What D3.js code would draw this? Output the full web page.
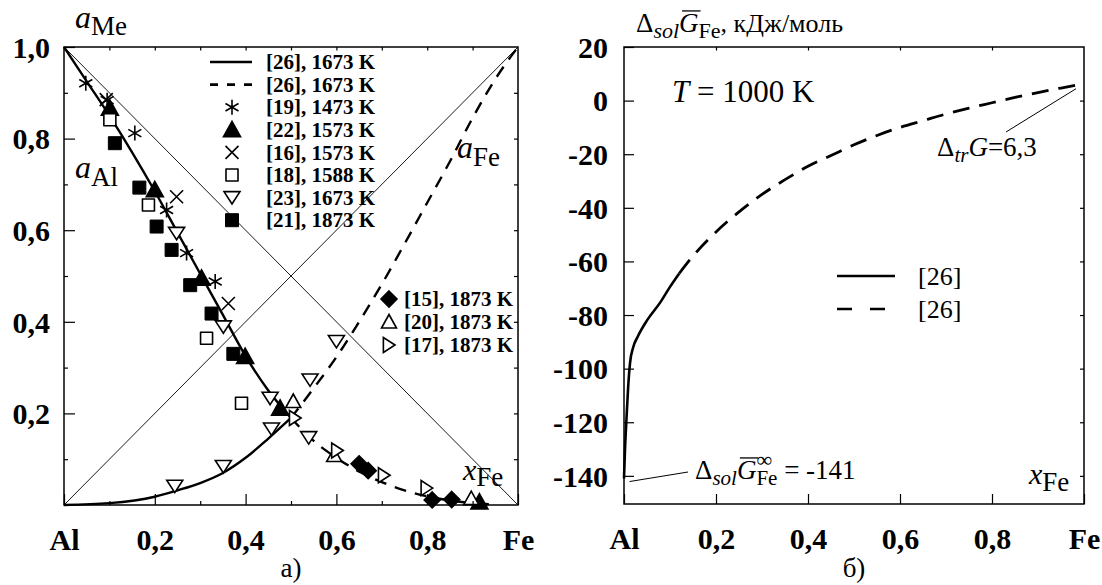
<!DOCTYPE html>
<html>
<head>
<meta charset="utf-8">
<script src="https://cdn.jsdelivr.net/npm/d3@7"></script>
<style>
  body { margin: 0; background: #fff; }
  svg { font-family: "Liberation Serif", "Times New Roman", serif; }
  text { white-space: pre; }
</style>
</head>
<body>
<svg id="chart" width="1102" height="585"></svg>
<script>
// ---- data: panel a) activities vs x_Fe ----
var xTickVals = [0, 0.2, 0.4, 0.6, 0.8, 1];
var xTickLabels = ["Al", "0,2", "0,4", "0,6", "0,8", "Fe"];
var xMinorVals = [0.1, 0.3, 0.5, 0.7, 0.9];
var yTickValsL = [0.2, 0.4, 0.6, 0.8, 1.0];
var yTickLabelsL = ["0,2", "0,4", "0,6", "0,8", "1,0"];
var topTickValsL = [0.1, 0.2, 0.3, 0.4, 0.5, 0.6, 0.7, 0.8, 0.9];

var aAlSolid = [[0,1],[0.05,0.925],[0.1,0.85],[0.15,0.77],[0.2,0.685],[0.25,0.595],[0.3,0.505],[0.35,0.415],[0.4,0.325],[0.45,0.25],[0.5,0.19]];
var aAlDashed = [[0.5,0.19],[0.55,0.14],[0.6,0.103],[0.65,0.073],[0.7,0.05],[0.75,0.032],[0.8,0.019],[0.85,0.01],[0.9,0.004],[0.95,0.001]];
var aFeSolid = [[0,0],[0.1,0.004],[0.2,0.018],[0.25,0.032],[0.3,0.048],[0.35,0.07],[0.4,0.103],[0.45,0.145],[0.5,0.19]];
var aFeDashed = [[0.5,0.19],[0.55,0.255],[0.6,0.323],[0.65,0.4],[0.7,0.482],[0.75,0.57],[0.8,0.66],[0.85,0.75],[0.9,0.845],[0.95,0.93],[1,1]];

var s19 = [[0.048,0.921],[0.095,0.884],[0.156,0.812],[0.226,0.644],[0.27,0.55],[0.333,0.488]];
var s22 = [[0.101,0.866],[0.2,0.688],[0.303,0.495],[0.399,0.324],[0.476,0.211],[0.915,0.006]];
var s16 = [[0.093,0.885],[0.248,0.673],[0.362,0.44]];
var s18 = [[0.101,0.841],[0.186,0.655],[0.314,0.364],[0.391,0.222]];
var s23 = [[0.248,0.593],[0.351,0.389],[0.454,0.233],[0.539,0.147],[0.244,0.041],[0.351,0.084],[0.457,0.166],[0.542,0.273],[0.6,0.357]];
var s21 = [[0.112,0.79],[0.166,0.693],[0.204,0.608],[0.237,0.557],[0.278,0.48],[0.325,0.418],[0.373,0.33]];
var s15 = [[0.65,0.09],[0.67,0.075],[0.811,0.011],[0.854,0.012]];
var s20 = [[0.505,0.226],[0.595,0.108],[0.897,0.014]];
var s17 = [[0.509,0.19],[0.602,0.119],[0.705,0.065],[0.799,0.037]];

var legendA1 = ["[26], 1673 K","[26], 1673 K","[19], 1473 K","[22], 1573 K","[16], 1573 K","[18], 1588 K","[23], 1673 K","[21], 1873 K"];
var legendA2 = ["[15], 1873 K","[20], 1873 K","[17], 1873 K"];

// ---- data: panel б) partial Gibbs energy of Fe, T = 1000 K ----
var yTickValsR = [20, 0, -20, -40, -60, -80, -100, -120, -140];
var gSolid = [[0,-141],[0.002,-131],[0.005,-120],[0.009,-107],[0.013,-98],[0.02,-92],[0.03,-88],[0.05,-82],[0.08,-75],[0.1,-69.5],[0.12,-64.5]];
var gDashed = [[0.12,-64.5],[0.15,-58],[0.2,-49],[0.25,-41.5],[0.3,-35],[0.35,-29.5],[0.4,-24.5],[0.45,-20.5],[0.5,-16.5],[0.55,-13],[0.6,-10],[0.65,-7.5],[0.7,-5],[0.75,-2.8],[0.8,-0.8],[0.85,1.2],[0.9,3],[0.95,4.7],[1,6.3]];
var legendB = ["[26]", "[26]"];
var gInf = -141, gTr = 6.3;

var svg = d3.select("#chart");

// marker shapes, centred on 0,0
function markerPath(type, s) {
  var h = s / 2;
  switch (type) {
    case "sq": return "M" + (-h) + "," + (-h) + "h" + s + "v" + s + "h" + (-s) + "Z";
    case "triU": return "M0," + (-h) + "L" + h + "," + (h * 0.8) + "L" + (-h) + "," + (h * 0.8) + "Z";
    case "triD": return "M0," + (h * 0.8) + "L" + h + "," + (-h * 0.75) + "L" + (-h) + "," + (-h * 0.75) + "Z";
    case "triR": return "M" + (h * 0.8) + ",0L" + (-h * 0.75) + "," + (-h) + "L" + (-h * 0.75) + "," + h + "Z";
    case "dia": return "M0," + (-h) + "L" + h + ",0L0," + h + "L" + (-h) + ",0Z";
    case "x": return "M" + (-h) + "," + (-h) + "L" + h + "," + h + "M" + h + "," + (-h) + "L" + (-h) + "," + h;
    case "ast":
      var c = h * 0.87, d = h * 0.5;
      return "M0," + (-h) + "V" + h + "M" + (-c) + "," + (-d) + "L" + c + "," + d + "M" + c + "," + (-d) + "L" + (-c) + "," + d;
  }
}

var styles = {
  s19: {type: "ast", size: 15, fill: "none"},
  s22: {type: "triU", size: 17, fill: "#000"},
  s16: {type: "x", size: 13, fill: "none"},
  s18: {type: "sq", size: 12, fill: "#fff"},
  s23: {type: "triD", size: 16, fill: "#fff"},
  s21: {type: "sq", size: 13, fill: "#000"},
  s15: {type: "dia", size: 16, fill: "#000"},
  s20: {type: "triU", size: 15, fill: "#fff"},
  s17: {type: "triR", size: 15, fill: "#fff"}
};

function drawMarker(g, key, px, py) {
  var st = styles[key];
  g.append("path")
    .attr("d", markerPath(st.type, st.size))
    .attr("transform", "translate(" + px + "," + py + ")")
    .attr("fill", st.fill)
    .attr("stroke", "#000")
    .attr("stroke-width", st.type == "sq" && st.fill == "#000" ? 1 : 1.6)
    .attr("stroke-linejoin", st.type == "sq" ? "round" : "miter");
}

// text made of pieces (italic, sub/superscripts, overline)
function rich(g, x, y, parts) {
  var cx = x;
  parts.forEach(function(p) {
    var t = g.append("text")
      .attr("x", cx + (p.dx || 0))
      .attr("y", y + (p.dy || 0))
      .attr("font-size", p.size)
      .attr("font-style", p.italic ? "italic" : null)
      .attr("font-weight", p.bold ? "bold" : null)
      .text(p.t);
    var w = t.node().getComputedTextLength();
    if (p.over) {
      g.append("line")
        .attr("x1", cx + 3).attr("x2", cx + w + 2)
        .attr("y1", y - p.size * 0.78).attr("y2", y - p.size * 0.78)
        .attr("stroke", "#000").attr("stroke-width", 1.3);
    }
    if (!p.stay) cx += w + (p.dx || 0);
  });
}

function frameAxes(g, x, y, o) {
  // major ticks + labels
  var bottom = g.append("g").attr("transform", "translate(0," + y.range()[0] + ")")
    .call(d3.axisBottom(x).tickValues(o.xMajor).tickSize(-o.xMajorLen).tickPadding(23)
      .tickFormat(function(d, i) { return o.xLabels[i]; }));
  var left = g.append("g").attr("transform", "translate(" + x.range()[0] + ",0)")
    .call(d3.axisLeft(y).tickValues(o.yMajor).tickSize(-o.yMajorLen).tickPadding(o.yPad)
      .tickFormat(function(d, i) { return o.yLabels[i]; }));
  [bottom, left].forEach(function(a) {
    a.select(".domain").remove();
    a.attr("font-family", null);
    a.selectAll("text").attr("font-size", 30).attr("font-weight", "bold").attr("fill", "#000");
  });
  bottom.selectAll("text").attr("dy", "0.74em");
  left.selectAll("text").attr("dy", "0.34em");
  // minor / small ticks
  var small = [];
  if (o.xMinor) small.push(g.append("g").attr("transform", "translate(0," + y.range()[0] + ")")
    .call(d3.axisBottom(x).tickValues(o.xMinor).tickSize(-4).tickFormat("")));
  if (o.yMinor) small.push(g.append("g").attr("transform", "translate(" + x.range()[0] + ",0)")
    .call(d3.axisLeft(y).tickValues(o.yMinor).tickSize(-4).tickFormat("")));
  small.push(g.append("g").attr("transform", "translate(0," + y.range()[1] + ")")
    .call(d3.axisTop(x).tickValues(o.xTop).tickSize(-3.5).tickFormat("")));
  small.push(g.append("g").attr("transform", "translate(" + x.range()[1] + ",0)")
    .call(d3.axisRight(y).tickValues(o.yRight).tickSize(-4).tickFormat("")));
  small.forEach(function(a) { a.select(".domain").remove(); });
  g.selectAll(".tick line").attr("stroke", "#000").attr("stroke-width", 1.2);
  // frame
  g.append("rect")
    .attr("x", x.range()[0]).attr("y", y.range()[1])
    .attr("width", x.range()[1] - x.range()[0]).attr("height", y.range()[0] - y.range()[1])
    .attr("fill", "none").attr("stroke", "#000").attr("stroke-width", 1.5);
}

// ================= panel a) =================
var xL = d3.scaleLinear().domain([0, 1]).range([64, 518]);
var yL = d3.scaleLinear().domain([0, 1]).range([505, 47]);
var gA = svg.append("g");

var lineL = d3.line().x(function(d) { return xL(d[0]); }).y(function(d) { return yL(d[1]); });
var curveL = d3.line().x(function(d) { return xL(d[0]); }).y(function(d) { return yL(d[1]); })
  .curve(d3.curveMonotoneX);

// Raoult diagonals
gA.append("path").attr("d", lineL([[0, 1], [1, 0]])).attr("stroke", "#000").attr("stroke-width", 0.9).attr("fill", "none");
gA.append("path").attr("d", lineL([[0, 0], [1, 1]])).attr("stroke", "#000").attr("stroke-width", 0.9).attr("fill", "none");

[aAlSolid, aFeSolid].forEach(function(d) {
  gA.append("path").attr("d", curveL(d)).attr("stroke", "#000").attr("stroke-width", 2.4).attr("fill", "none");
});
[aAlDashed, aFeDashed].forEach(function(d) {
  gA.append("path").attr("d", curveL(d)).attr("stroke", "#000").attr("stroke-width", 2.4)
    .attr("stroke-dasharray", "12,9").attr("fill", "none");
});

var seriesA = {s19: s19, s22: s22, s16: s16, s18: s18, s23: s23, s21: s21, s15: s15, s20: s20, s17: s17};
Object.keys(seriesA).forEach(function(k) {
  seriesA[k].forEach(function(d) { drawMarker(gA, k, xL(d[0]), yL(d[1])); });
});

frameAxes(gA, xL, yL, {
  xMajor: xTickVals, xLabels: xTickLabels, xMajorLen: 11, xMinor: xMinorVals,
  yMajor: yTickValsL, yLabels: yTickLabelsL, yMajorLen: 11, yPad: 14,
  yMinor: [0.1, 0.3, 0.5, 0.7, 0.9], xTop: topTickValsL, yRight: [0.1, 0.2, 0.3, 0.4, 0.5, 0.6, 0.7, 0.8, 0.9]
});

// legend 1
var leg1 = gA.append("g");
legendA1.forEach(function(txt, i) {
  var cy = 62 + i * 22.6;
  if (i == 0) leg1.append("line").attr("x1", 210).attr("x2", 252).attr("y1", cy).attr("y2", cy).attr("stroke", "#000").attr("stroke-width", 2.6);
  else if (i == 1) leg1.append("line").attr("x1", 210).attr("x2", 252).attr("y1", cy).attr("y2", cy).attr("stroke", "#000").attr("stroke-width", 2.6).attr("stroke-dasharray", "8,9");
  else drawMarker(leg1, ["s19", "s22", "s16", "s18", "s23", "s21"][i - 2], 232, cy);
  leg1.append("text").attr("x", 266).attr("y", cy).attr("dy", "0.34em").attr("font-size", 21).attr("font-weight", "bold").text(txt);
});
// legend 2
var leg2 = gA.append("g");
legendA2.forEach(function(txt, i) {
  var cy = 299 + i * 23;
  drawMarker(leg2, ["s15", "s20", "s17"][i], 389, cy);
  leg2.append("text").attr("x", 404).attr("y", cy).attr("dy", "0.34em").attr("font-size", 21).attr("font-weight", "bold").text(txt);
});

rich(gA, 75, 28, [{t: "a", size: 32, italic: true}, {t: "Me", size: 27, dy: 7}]);
rich(gA, 75, 178, [{t: "a", size: 32, italic: true}, {t: "Al", size: 27, dy: 8}]);
rich(gA, 457, 158, [{t: "a", size: 32, italic: true}, {t: "Fe", size: 27, dy: 8}]);
rich(gA, 463, 480, [{t: "x", size: 30, italic: true}, {t: "Fe", size: 27, dy: 6}]);
gA.append("text").attr("x", 291).attr("y", 577).attr("text-anchor", "middle").attr("font-size", 27).text("а)");

// ================= panel б) =================
var xR = d3.scaleLinear().domain([0, 1]).range([624, 1084]);
var yR = d3.scaleLinear().domain([-150.5, 20]).range([504, 47]);
var gB = svg.append("g");

var curveR = d3.line().x(function(d) { return xR(d[0]); }).y(function(d) { return yR(d[1]); })
  .curve(d3.curveMonotoneX);
gB.append("path").attr("d", curveR(gSolid)).attr("stroke", "#000").attr("stroke-width", 2.6).attr("fill", "none");
gB.append("path").attr("d", curveR(gDashed)).attr("stroke", "#000").attr("stroke-width", 2.8)
  .attr("stroke-dasharray", "17,10").attr("fill", "none");

frameAxes(gB, xR, yR, {
  xMajor: xTickVals, xLabels: xTickLabels, xMajorLen: 10,
  yMajor: yTickValsR, yLabels: yTickValsR.map(String), yMajorLen: 10, yPad: 16,
  xTop: [0.2, 0.4, 0.6, 0.8], yRight: [0, -20, -40, -60, -80, -100, -120, -140]
});

// legend
var leg3 = gB.append("g");
legendB.forEach(function(txt, i) {
  var cy = 276 + i * 33;
  leg3.append("line").attr("x1", 837).attr("x2", 895).attr("y1", cy).attr("y2", cy)
    .attr("stroke", "#000").attr("stroke-width", 2.6).attr("stroke-dasharray", i == 0 ? null : "15,18");
  leg3.append("text").attr("x", 918).attr("y", cy).attr("dy", "0.34em").attr("font-size", 26).text(txt);
});

// title and labels
rich(gB, 636, 32, [
  {t: "Δ", size: 27}, {t: "sol", size: 22, italic: true, dy: 6},
  {t: "G", size: 27, italic: true, over: true}, {t: "Fe", size: 22, dy: 6},
  {t: ", кДж/моль", size: 26}
]);
rich(gB, 672, 102, [{t: "T", size: 31, italic: true}, {t: "\u00a0= 1000 K", size: 31}]);
rich(gB, 1029, 484, [{t: "x", size: 30, italic: true}, {t: "Fe", size: 27, dy: 7}]);

// Δtr G annotation with leader to the end of the curve
gB.append("line")
  .attr("x1", xR(1) - 8).attr("y1", yR(gTr) + 5).attr("x2", 1006).attr("y2", 132)
  .attr("stroke", "#000").attr("stroke-width", 1);
rich(gB, 937, 156, [{t: "Δ", size: 27}, {t: "tr", size: 21, italic: true, dy: 6},
  {t: "G", size: 27, italic: true}, {t: "=6,3", size: 27}]);

// infinite dilution annotation
gB.append("line")
  .attr("x1", xR(0.012)).attr("y1", yR(gInf) + 3).attr("x2", 688).attr("y2", 472)
  .attr("stroke", "#000").attr("stroke-width", 1);
rich(gB, 695, 479, [
  {t: "Δ", size: 27}, {t: "sol", size: 21, italic: true, dy: 6},
  {t: "G", size: 27, italic: true, over: true},
  {t: "∞", size: 22, dy: -12, stay: true}, {t: "Fe", size: 21, dy: 6},
  {t: "\u00a0= -141", size: 27}
]);
gB.append("text").attr("x", 854).attr("y", 577).attr("text-anchor", "middle").attr("font-size", 27).text("б)");
</script>
</body>
</html>
